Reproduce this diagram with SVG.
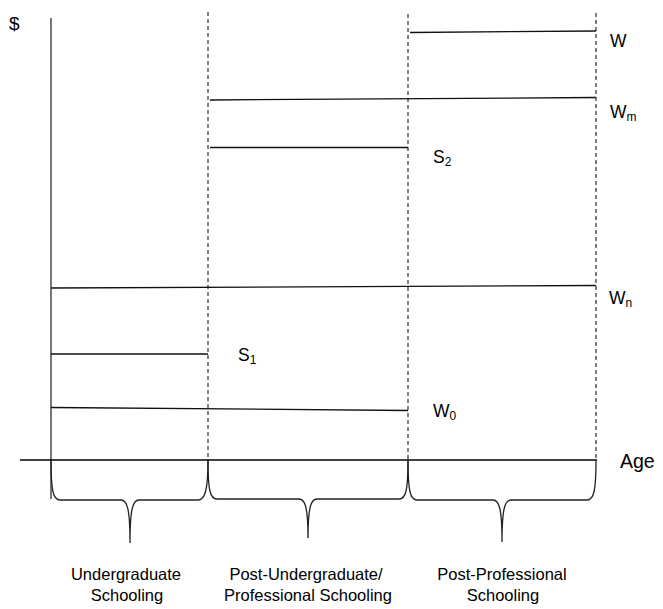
<svg xmlns="http://www.w3.org/2000/svg" width="663" height="609" viewBox="0 0 663 609">
<style>
text{font-family:"Liberation Sans",Arial,sans-serif;fill:#000}
.lbl{font-size:17.5px}
.cap{font-size:16.5px;text-anchor:middle}
.sub{font-size:12px}
.h{stroke:#111;stroke-width:1.3;fill:none}
.d{stroke:#000;stroke-width:1;stroke-dasharray:4 3;fill:none}
.br{stroke:#222;stroke-width:1.3;fill:none}
</style>
<rect width="663" height="609" fill="#fff"/>
<g id="axes">
<line x1="51" y1="18" x2="51" y2="499" stroke="#777" stroke-width="2"/>
<line x1="20" y1="460" x2="597" y2="460" stroke="#000" stroke-width="1.3"/>
<text x="9" y="30" style="font-size:19px">$</text>
<text x="620" y="468" style="font-size:19.5px">Age</text>
</g>
<g id="dividers">
<line class="d" x1="208" y1="12" x2="208" y2="460"/>
<line class="d" x1="408" y1="14" x2="408" y2="460"/>
<line class="d" x1="596" y1="13" x2="596" y2="460"/>
</g>
<g id="connectors">
<line class="h" x1="410" y1="32.5" x2="596" y2="31"/>
<line class="h" x1="210" y1="100" x2="596" y2="97.5"/>
<line class="h" x1="210" y1="147.5" x2="408" y2="147.5"/>
<line class="h" x1="51" y1="288" x2="596" y2="285.5"/>
<line class="h" x1="51" y1="354" x2="208" y2="354"/>
<line class="h" x1="51" y1="407.5" x2="408" y2="410.5"/>
</g>
<g id="labels">
<text class="lbl" x="610" y="47">W</text>
<text class="lbl" x="610" y="118">W<tspan class="sub" dy="3">m</tspan></text>
<text class="lbl" x="433" y="163">S<tspan class="sub" dy="3">2</tspan></text>
<text class="lbl" x="609" y="304">W<tspan class="sub" dy="3">n</tspan></text>
<text class="lbl" x="238" y="361">S<tspan class="sub" dy="3">1</tspan></text>
<text class="lbl" x="433" y="417">W<tspan class="sub" dy="3">0</tspan></text>
</g>
<g id="brace-undergrad">
<path class="br" d="M51,460 C51,490 53,500 60,500 L121,500 C127,500 130,508 130,543 C130,508 133,500 139,500 L198,500 C205,500 208,490 208,460"/>
<text class="cap" x="126" y="580">Undergraduate</text>
<text class="cap" x="127" y="601">Schooling</text>
</g>
<g id="brace-postundergrad">
<path class="br" d="M208,460 C208,490 210,499 217,499 L299,499 C305,499 308,507 308,538 C308,507 311,499 317,499 L399,499 C406,499 408,490 408,460"/>
<text class="cap" x="306" y="580">Post-Undergraduate/</text>
<text class="cap" x="308" y="601">Professional Schooling</text>
</g>
<g id="brace-postprof">
<path class="br" d="M408,460 C408,490 410,500 417,500 L493,500 C499,500 502,508 502,542 C502,508 505,500 511,500 L587,500 C594,500 596,490 596,460"/>
<text class="cap" x="502" y="580">Post-Professional</text>
<text class="cap" x="503" y="601">Schooling</text>
</g>
</svg>
